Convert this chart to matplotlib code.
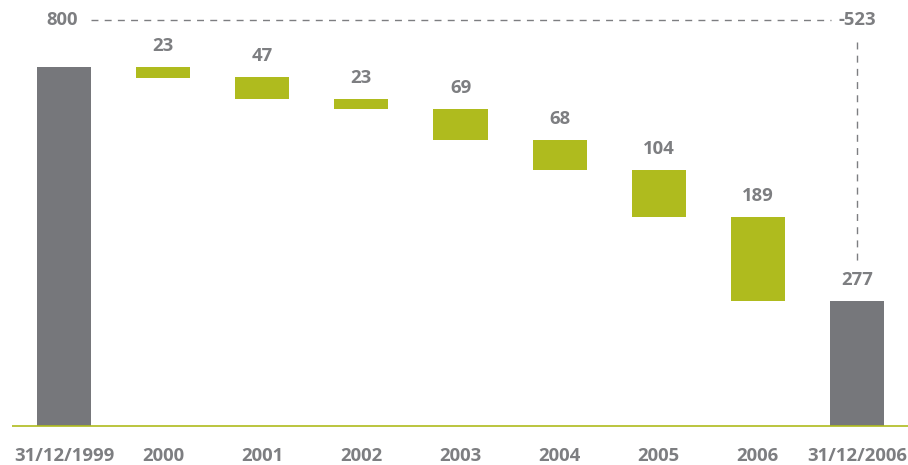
import matplotlib
matplotlib.use("Agg")
import matplotlib.pyplot as plt

categories = ["31/12/1999", "2000", "2001", "2002", "2003", "2004", "2005", "2006", "31/12/2006"]
start_value = 800
decreases = [23, 47, 23, 69, 68, 104, 189]
end_value = start_value - sum(decreases)
total_change_label = "-523"

GREY = "#76777b"
GREEN = "#afbb1e"
TEXT = "#7d7e81"
FONT = "Open Sans"
FS = 13.3
WEIGHT = "bold"

fig = plt.figure(figsize=(9.08, 4.65), dpi=100)
ax = fig.add_axes([0, 0, 1, 1])
ax.set_xlim(-0.6457, 8.5145)
ax.set_ylim(-88, 950)
ax.axis("off")

width = 0.545
label_kw = dict(ha="center", va="center", color=TEXT, fontsize=FS,
                fontweight=WEIGHT, family=FONT)
gap = 47  # offset of the value labels above the bars

# opening total
ax.bar(0, start_value, width=width, color=GREY)

# yearly decreases
level = start_value
for i, d in enumerate(decreases, start=1):
    ax.bar(i, d, bottom=level - d, width=width, color=GREEN)
    ax.text(i, level + gap, str(d), **label_kw)
    level -= d

# closing total
n = len(categories) - 1
ax.bar(n, end_value, width=width, color=GREY)
ax.text(n, end_value + gap, str(end_value), **label_kw)

# baseline
ax.plot([-0.52, 8.6], [0, 0], color=GREEN, lw=1.2, solid_capstyle="butt")

# category labels
for i, c in enumerate(categories):
    ax.text(i, -67, c, **label_kw)

# dashed reference from opening to closing total
ref_y = 905
ax.plot([0.27, 7.74], [ref_y, ref_y], color=TEXT, lw=1.0, dashes=(5, 4.5))
ax.plot([n, n], [856, 362], color=TEXT, lw=1.0, dashes=(5, 4.5))
ax.text(0.14, ref_y, str(start_value), ha="right", va="center", color=TEXT,
        fontsize=FS, fontweight=WEIGHT, family=FONT)
ax.text(7.81, ref_y, total_change_label, ha="left", va="center", color=TEXT,
        fontsize=FS, fontweight=WEIGHT, family=FONT)

fig.savefig("out.png", dpi=100)
